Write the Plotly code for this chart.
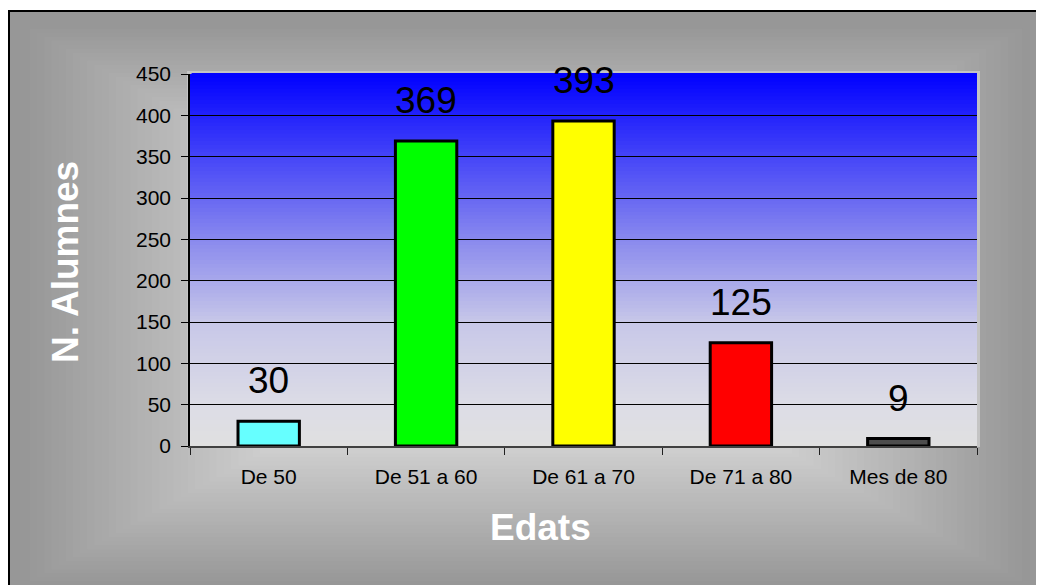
import plotly.graph_objects as go

categories = ["De 50", "De 51 a 60", "De 61 a 70", "De 71 a 80", "Mes de 80"]
values = [30, 369, 393, 125, 9]
bar_colors = ["#66ffff", "#00ff00", "#ffff00", "#ff0000", "#4d4d4d"]
y_ticks = [0, 50, 100, 150, 200, 250, 300, 350, 400, 450]
x_title = "Edats"
y_title = "N. Alumnes"

# the page body adds an 8px margin, so the figure is 8px smaller and all
# reference pixel positions are shifted by -8
OFF = 8
W, H = 1044 - OFF, 585 - OFF
ML, MR, MT, MB = 190 - OFF, 1044 - 977, 74 - OFF, 585 - 446
PW = W - ML - MR
PH = H - MT - MB
FONT = "Liberation Sans, Arial, sans-serif"


def px(x):
    """reference-image x pixel -> paper x"""
    return (x - OFF - ML) / PW


def py(y):
    """reference-image y pixel -> paper y"""
    return (H - MB - (y - OFF)) / PH


def gray(v):
    v = int(round(max(0, min(255, v))))
    return f"rgb({v},{v},{v})"


shapes = []

# chart-area background with rectangular gradient from centre
shapes.append(dict(type="rect", xref="paper", yref="paper", layer="below",
                   x0=px(9), x1=px(1070), y0=py(11), y1=py(620),
                   fillcolor=gray(151), line=dict(color="black", width=2)))
cx, cy, hw, hh = 526, 305, 530, 295
N = 70
for k in range(N):
    s = 0.95 * (1 - k / N)
    c = 151 + min(1.0, max(0.0, (0.95 - s)) / 0.45) * 55
    shapes.append(dict(type="rect", xref="paper", yref="paper", layer="below",
                       x0=px(cx - hw * s), x1=px(cx + hw * s),
                       y0=py(cy + hh * s), y1=py(cy - hh * s),
                       fillcolor=gray(c), line=dict(width=0)))

# light border around plot area
shapes.append(dict(type="rect", xref="paper", yref="paper", layer="below",
                   x0=px(190 - 3), x1=px(977 + 3), y0=py(447), y1=py(74 - 3),
                   fillcolor="#c4c4c4", line=dict(width=0)))

# plot-area vertical gradient (blue at top to light gray at bottom)
stops_rg = [(0, 0), (0.22, 68), (0.44, 136), (0.67, 200), (0.89, 220), (1, 224)]
stops_b = [(0, 255), (0.22, 248), (0.44, 238), (0.67, 232), (0.89, 230), (1, 224)]


def interp(stops, t):
    for (t0, v0), (t1, v1) in zip(stops[:-1], stops[1:]):
        if t0 <= t <= t1:
            return v0 + (v1 - v0) * (t - t0) / (t1 - t0)
    return stops[-1][1]


NS = 100
for i in range(NS):
    t = (i + 0.5) / NS
    rg = int(round(interp(stops_rg, t)))
    b = int(round(interp(stops_b, t)))
    shapes.append(dict(type="rect", xref="x domain", yref="y domain", layer="below",
                       x0=0, x1=1, y0=1 - (i + 1) / NS - 0.002, y1=1 - i / NS,
                       fillcolor=f"rgb({rg},{rg},{b})", line=dict(width=0)))

# hide the gridline that coincides with the top edge
shapes.append(dict(type="line", xref="x domain", yref="y domain", layer="above",
                   x0=0.002, x1=1, y0=1, y1=1, line=dict(color="rgb(2,2,255)", width=2)))

fig = go.Figure()
fig.add_trace(go.Bar(
    x=categories, y=values,
    marker=dict(color=bar_colors, line=dict(color="black", width=3)),
    width=0.39, hoverinfo="x+y",
))

annotations = []
for c, v in zip(categories, values):
    annotations.append(dict(x=c, y=v, xref="x", yref="y", text=str(v), showarrow=False,
                            yanchor="bottom", yshift=18,
                            font=dict(family=FONT, size=37, color="black")))

annotations.append(dict(x=px(65), y=py(262), xref="paper", yref="paper", text=y_title,
                        textangle=-90, showarrow=False, xanchor="center", yanchor="middle",
                        font=dict(family=FONT, size=37, color="white", weight="bold")))
annotations.append(dict(x=px(540), y=py(527), xref="paper", yref="paper", text=x_title,
                        showarrow=False, xanchor="center", yanchor="middle",
                        font=dict(family=FONT, size=37, color="white", weight="bold")))

fig.update_layout(
    width=W, height=H,
    margin=dict(l=ML, r=MR, t=MT, b=MB, pad=0),
    paper_bgcolor="white",
    plot_bgcolor="rgba(0,0,0,0)",
    showlegend=False,
    shapes=shapes,
    annotations=annotations,
    font=dict(family=FONT, size=21, color="black"),
    xaxis=dict(
        type="category", showgrid=False, zeroline=False,
        showline=True, linecolor="#404040", linewidth=1.5,
        ticks="outside", tickson="boundaries", ticklen=7, tickcolor="#202020", tickwidth=1,
        tickfont=dict(family=FONT, size=21, color="black"),
        ticklabelstandoff=11,
        range=[-0.5, len(categories) - 0.5],
    ),
    yaxis=dict(
        range=[0, 450], tickvals=y_ticks, showgrid=True, gridcolor="black", gridwidth=1,
        zeroline=False, showline=True, linecolor="black", linewidth=1.5,
        ticks="outside", ticklen=7, tickcolor="black", tickwidth=1,
        tickfont=dict(family=FONT, size=21, color="black"),
        ticklabelstandoff=6,
    ),
)

fig.write_html("out.html")
